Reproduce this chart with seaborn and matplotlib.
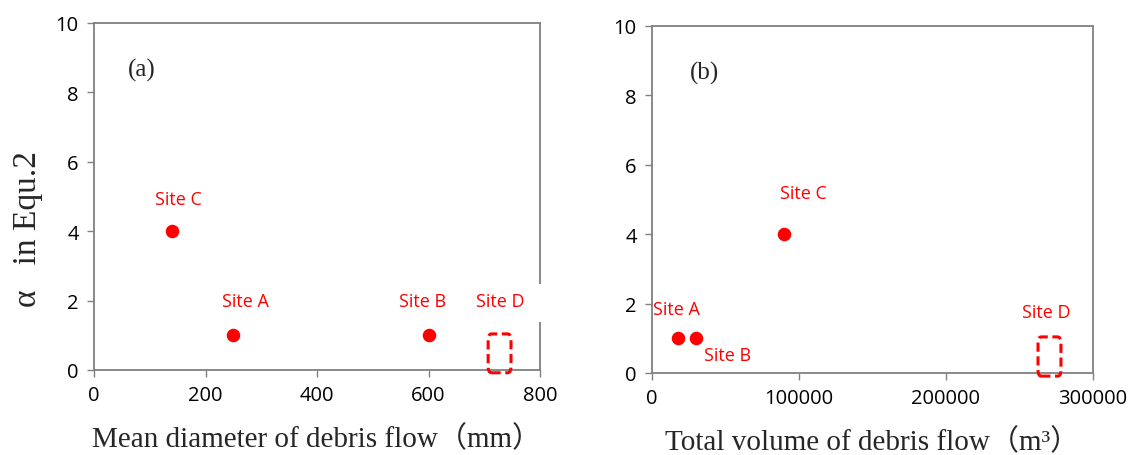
import numpy as np
import pandas as pd
import matplotlib
matplotlib.use("Agg")
import matplotlib.pyplot as plt
import seaborn as sns
from matplotlib.patches import FancyBboxPatch, Rectangle

# data
sites = ["Site A", "Site B", "Site C"]
alpha = [1, 1, 4]
diameter = [250, 600, 140]        # mm
volume = [18000, 30000, 90000]    # m3
site_d_diameter = 728
site_d_volume = 270000

df = pd.DataFrame({"site": sites, "alpha": alpha,
                   "diameter": diameter, "volume": volume})

sns.set_theme(style="white")
plt.rcParams["font.family"] = ["Open Sans", "DejaVu Sans"]

red = "#ff0000"
grey = "#808080"
serif = ["Liberation Serif", "Noto Sans CJK JP"]

fig = plt.figure(figsize=(11.31, 4.56), dpi=100)
ax1 = fig.add_axes([94/1131, 1 - 371/456, 446/1131, 347/456])
ax2 = fig.add_axes([652/1131, 1 - 374/456, 441/1131, 347/456])


def style(ax, xmax, xticks):
    ax.set_xlim(0, xmax)
    ax.set_ylim(0, 10)
    ax.set_xticks(xticks)
    ax.set_yticks([0, 2, 4, 6, 8, 10])
    for s in ax.spines.values():
        s.set_color(grey)
        s.set_linewidth(1.3)
    ax.tick_params(axis="both", direction="out", length=5, width=1,
                   color=grey, labelsize=14.5, labelcolor="black",
                   left=True, bottom=True, pad=6)


# (a) mean diameter
sns.scatterplot(data=df, x="diameter", y="alpha", ax=ax1, color=red,
                s=95, edgecolor=red, linewidth=0, clip_on=False, zorder=3)
style(ax1, 800, [0, 200, 400, 600, 800])
ax1.set_xlabel("Mean diameter of debris flow（mm）", family=serif,
               fontsize=21, labelpad=14)
ax1.set_ylabel("α   in Equ.2", family=serif, fontsize=24)
ax1.yaxis.set_label_coords(-0.115, 0.41)
ax1.text(0.075, 0.865, "(a)", transform=ax1.transAxes, family=serif,
         fontsize=18, va="center")
offs_a = {"Site A": (21, 1.0), "Site B": (-10, 1.0), "Site C": (11, 0.93)}
for r in df.itertuples():
    dx, dy = offs_a[r.site]
    ax1.text(r.diameter + dx, r.alpha + dy, r.site, color=red, fontsize=13,
             ha="center", va="center")
ax1.text(site_d_diameter, 2.0, "Site D", color=red, fontsize=13,
         ha="center", va="center", zorder=5)
# white patch breaking the right spine behind "Site D"
ax1.add_patch(Rectangle((0.985, 0.138), 0.03, 0.11, transform=ax1.transAxes,
                        facecolor="white", edgecolor="none", clip_on=False,
                        zorder=6))
ax1.add_patch(FancyBboxPatch((707, -0.08), 41, 1.12,
                             boxstyle="round,pad=0,rounding_size=6",
                             mutation_aspect=0.03,
                             fill=False, edgecolor=red, linestyle=(0, (3, 1.5)),
                             linewidth=2.2, clip_on=False, zorder=4))

# (b) total volume
sns.scatterplot(data=df, x="volume", y="alpha", ax=ax2, color=red,
                s=95, edgecolor=red, linewidth=0, clip_on=False, zorder=3)
style(ax2, 300000, [0, 100000, 200000, 300000])
ax2.set_xlabel("Total volume of debris flow（m³）", family=serif,
               fontsize=21, labelpad=14)
ax2.set_ylabel("")
ax2.text(0.085, 0.865, "(b)", transform=ax2.transAxes, family=serif,
         fontsize=18, va="center")
offs_b = {"Site A": (-1700, 0.85), "Site B": (21700, -0.48), "Site C": (12700, 1.2)}
for r in df.itertuples():
    dx, dy = offs_b[r.site]
    ax2.text(r.volume + dx, r.alpha + dy, r.site, color=red, fontsize=13,
             ha="center", va="center")
ax2.text(site_d_volume - 2000, 1.76, "Site D", color=red, fontsize=13,
         ha="center", va="center")
ax2.add_patch(FancyBboxPatch((262600, -0.09), 15600, 1.13,
                             boxstyle="round,pad=0,rounding_size=2200",
                             mutation_aspect=0.00008,
                             fill=False, edgecolor=red, linestyle=(0, (3, 1.5)),
                             linewidth=2.2, clip_on=False, zorder=4))

fig.savefig("out.png", dpi=100)
